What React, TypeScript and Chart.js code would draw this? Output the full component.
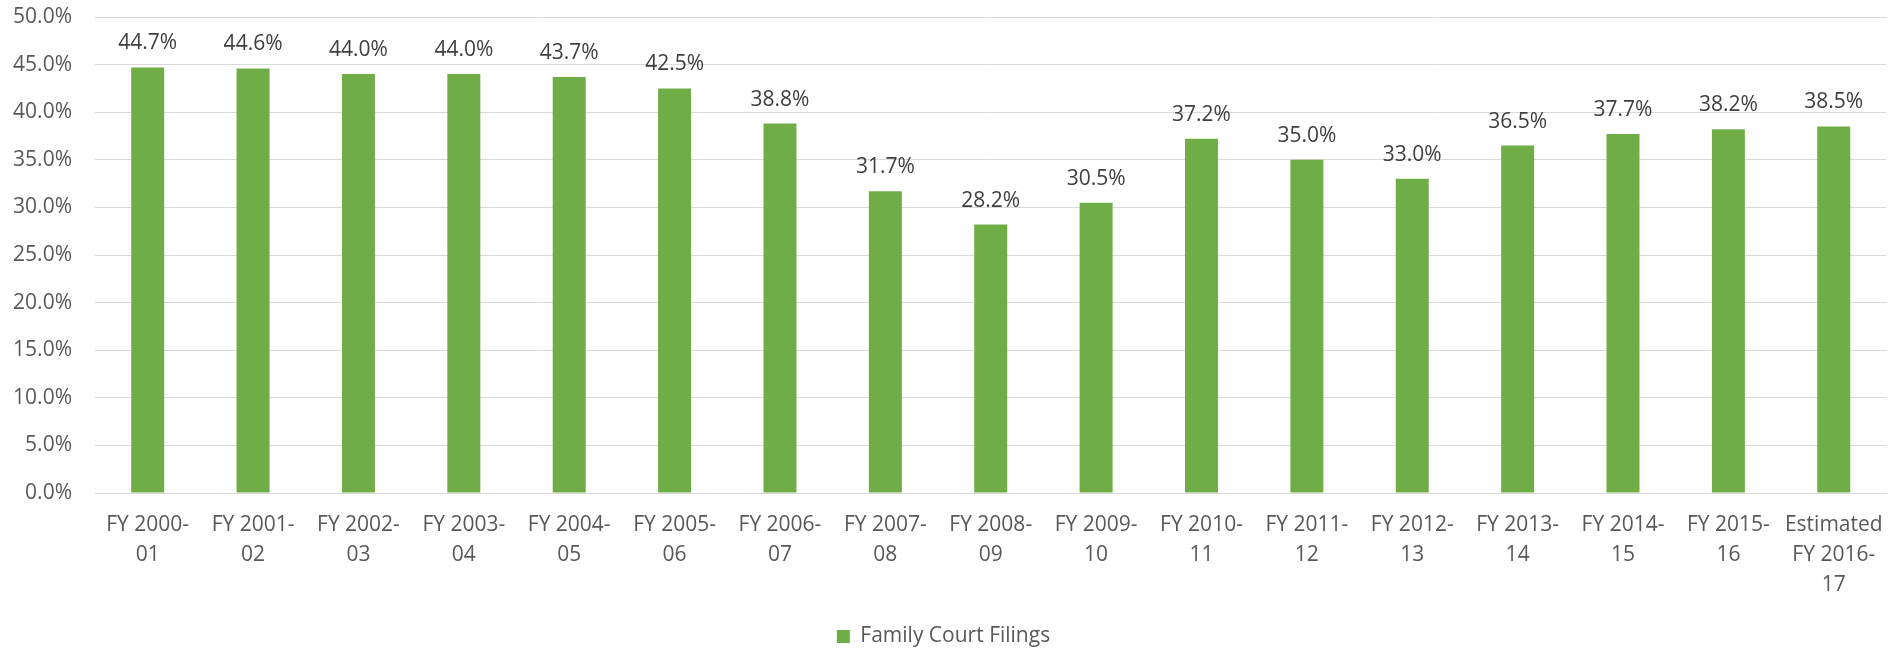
import React, { useEffect, useRef } from "react";
import { Chart, registerables } from "chart.js";

Chart.register(...registerables);

const categories: string[][] = [
  ["FY 2000-", "01"],
  ["FY 2001-", "02"],
  ["FY 2002-", "03"],
  ["FY 2003-", "04"],
  ["FY 2004-", "05"],
  ["FY 2005-", "06"],
  ["FY 2006-", "07"],
  ["FY 2007-", "08"],
  ["FY 2008-", "09"],
  ["FY 2009-", "10"],
  ["FY 2010-", "11"],
  ["FY 2011-", "12"],
  ["FY 2012-", "13"],
  ["FY 2013-", "14"],
  ["FY 2014-", "15"],
  ["FY 2015-", "16"],
  ["Estimated", "FY 2016-", "17"],
];

const familyCourtFilings: number[] = [
  44.7, 44.6, 44.0, 44.0, 43.7, 42.5, 38.8, 31.7, 28.2, 30.5, 37.2, 35.0, 33.0,
  36.5, 37.7, 38.2, 38.5,
];

const seriesName = "Family Court Filings";
const yMin = 0;
const yMax = 50;
const yStep = 5;

const FONT = "'Open Sans', 'Noto Sans', sans-serif";
const GREEN = "#70AD47";
const FS = 21;

const dataLabelPlugin = {
  id: "barValueLabels",
  afterDatasetsDraw(chart: any) {
    const ctx = chart.ctx;
    const meta = chart.getDatasetMeta(0);
    ctx.save();
    ctx.font = `${FS}px ${FONT}`;
    ctx.fillStyle = "#404040";
    ctx.textAlign = "center";
    ctx.textBaseline = "alphabetic";
    meta.data.forEach((bar: any, i: number) => {
      const v = chart.data.datasets[0].data[i] as number;
      ctx.fillText(v.toFixed(1) + "%", bar.x, bar.y - 18);
    });
    ctx.restore();
  },
};

export default function App() {
  const canvasRef = useRef<HTMLCanvasElement | null>(null);

  useEffect(() => {
    if (!canvasRef.current) return;
    const chart = new Chart(canvasRef.current, {
      type: "bar",
      data: {
        labels: categories,
        datasets: [
          {
            label: seriesName,
            data: familyCourtFilings,
            backgroundColor: GREEN,
            borderWidth: 0,
            barPercentage: 0.313,
            categoryPercentage: 1,
          },
        ],
      },
      options: {
        animation: false,
        responsive: true,
        maintainAspectRatio: false,
        layout: { padding: { top: 17, right: 13, left: 0, bottom: -9 } },
        plugins: {
          tooltip: { enabled: false },
          legend: {
            position: "bottom",
            labels: {
              boxWidth: 13,
              boxHeight: 13,
              padding: 16,
              color: "#595959",
              font: { family: FONT, size: FS },
            },
          },
        },
        scales: {
          x: {
            grid: { display: false, drawTicks: false },
            border: { display: true, color: "#D9D9D9", width: 1 },
            ticks: {
              color: "#595959",
              font: { family: FONT, size: FS, lineHeight: 30 / FS },
              padding: 17,
              maxRotation: 0,
              autoSkip: false,
            },
            afterFit: (scale: any) => {
              scale.height = 117;
            },
          },
          y: {
            min: yMin,
            max: yMax,
            grid: { color: "#D9D9D9", lineWidth: 1, drawTicks: false },
            border: { display: false },
            ticks: {
              stepSize: yStep,
              color: "#595959",
              font: { family: FONT, size: FS },
              padding: 23,
              callback: (v: any) => Number(v).toFixed(1) + "%",
            },
            afterFit: (scale: any) => {
              scale.width = 95;
              scale.paddingTop = 0;
              scale.paddingBottom = 0;
            },
          },
        },
      },
      plugins: [dataLabelPlugin],
    });
    return () => chart.destroy();
  }, []);

  return (
    <div
      style={{
        position: "fixed",
        left: 0,
        top: 0,
        width: 1900,
        height: 648,
        background: "#ffffff",
      }}
    >
      <canvas ref={canvasRef} />
    </div>
  );
}
